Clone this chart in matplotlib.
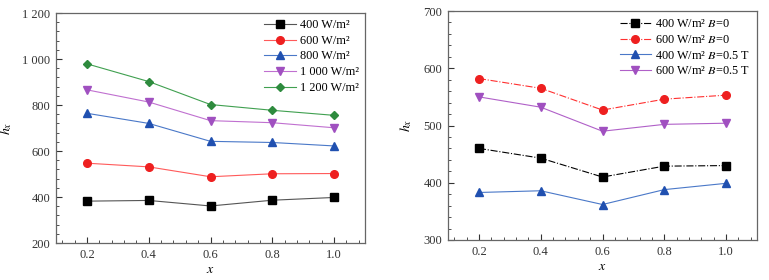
import matplotlib
matplotlib.use("Agg")
import matplotlib.pyplot as plt
from matplotlib.ticker import AutoMinorLocator, FuncFormatter

plt.rcParams['font.family'] = ['Liberation Serif', 'DejaVu Serif']
plt.rcParams['mathtext.fontset'] = 'stix'

x = [0.2, 0.4, 0.6, 0.8, 1.0]

# Left panel
left_labels = ['400 W/m²', '600 W/m²', '800 W/m²', '1 000 W/m²', '1 200 W/m²']
h400 = [382, 385, 361, 386, 398]
h600 = [547, 531, 488, 501, 502]
h800 = [764, 720, 642, 637, 622]
h1000 = [866, 813, 732, 723, 701]
h1200 = [979, 902, 802, 777, 755]
left_series = [h400, h600, h800, h1000, h1200]

# Right panel
right_labels = ['400 W/m² $B$=0', '600 W/m² $B$=0',
                '400 W/m² $B$=0.5 T', '600 W/m² $B$=0.5 T']
r400_b0 = [460, 443, 410, 429, 430]
r600_b0 = [582, 565, 527, 546, 553]
r400_b05 = [383, 386, 362, 388, 399]
r600_b05 = [550, 532, 490, 502, 504]
right_series = [r400_b0, r600_b0, r400_b05, r600_b05]

left_styles = [
    dict(color='#555555', marker='s', mfc='black', mec='black', ls='-'),
    dict(color='#ff5a5a', marker='o', mfc='#ee2020', mec='#ee2020', ls='-'),
    dict(color='#4a78c8', marker='^', mfc='#2050b0', mec='#2050b0', ls='-'),
    dict(color='#c070d0', marker='v', mfc='#a050c0', mec='#a050c0', ls='-'),
    dict(color='#40a050', marker='D', mfc='#2e8b3e', mec='#2e8b3e', ls='-'),
]
right_styles = [
    dict(color='black', marker='s', mfc='black', mec='black', ls='-.'),
    dict(color='#ff3030', marker='o', mfc='#ee2020', mec='#ee2020', ls='-.'),
    dict(color='#4a78c8', marker='^', mfc='#2050b0', mec='#2050b0', ls='-'),
    dict(color='#b060c8', marker='v', mfc='#a050c0', mec='#a050c0', ls='-'),
]

fig = plt.figure(figsize=(7.69, 2.80), dpi=100)
ax1 = fig.add_axes([56/769, 1-243/280, (365-56)/769, (243-13)/280])
ax2 = fig.add_axes([448/769, 1-240/280, (757-448)/769, (240-11)/280])

def thousands(v, pos):
    s = f"{int(round(v))}"
    if len(s) > 3:
        s = s[:-3] + ' ' + s[-3:]
    return s

for ax, series, labels, styles, ylim, ymaj, ylx, bap in [
    (ax1, left_series, left_labels, left_styles, (200, 1200), 200, -0.135, 0.1),
    (ax2, right_series, right_labels, right_styles, (300, 700), 100, -0.11, 0.2),
]:
    for ys, lab, st in zip(series, labels, styles):
        ms = 5.5 if st['marker'] != 'D' else 4.5
        ax.plot(x, ys, lw=0.8, markersize=ms, label=lab, **st)
    ax.set_xlim(0.1, 1.1)
    ax.set_ylim(*ylim)
    ax.set_xticks(x)
    ax.set_xticklabels(['0.2', '0.4', '0.6', '0.8', '1.0'])
    ax.set_yticks(range(ylim[0], ylim[1] + 1, ymaj))
    ax.yaxis.set_major_formatter(FuncFormatter(thousands))
    ax.xaxis.set_minor_locator(AutoMinorLocator(5))
    ax.yaxis.set_minor_locator(AutoMinorLocator(5))
    ax.tick_params(which='both', direction='in', top=False, right=False,
                   labelsize=9, colors='#333333', pad=4)
    ax.tick_params(which='major', length=4, width=0.8)
    ax.tick_params(which='minor', length=2.5, width=0.6)
    for sp in ax.spines.values():
        sp.set_color('#666666')
        sp.set_linewidth(0.9)
    ax.set_xlabel('$x$', fontsize=10, labelpad=2)
    ax.set_ylabel('$h_x$', fontsize=10)
    ax.yaxis.set_label_coords(ylx, 0.5)
    ax.legend(loc='upper right', frameon=False, fontsize=8.8,
              handlelength=2.6, handletextpad=0.3, labelspacing=0.3,
              borderaxespad=bap)

fig.savefig('out.png', dpi=100, facecolor='white')
